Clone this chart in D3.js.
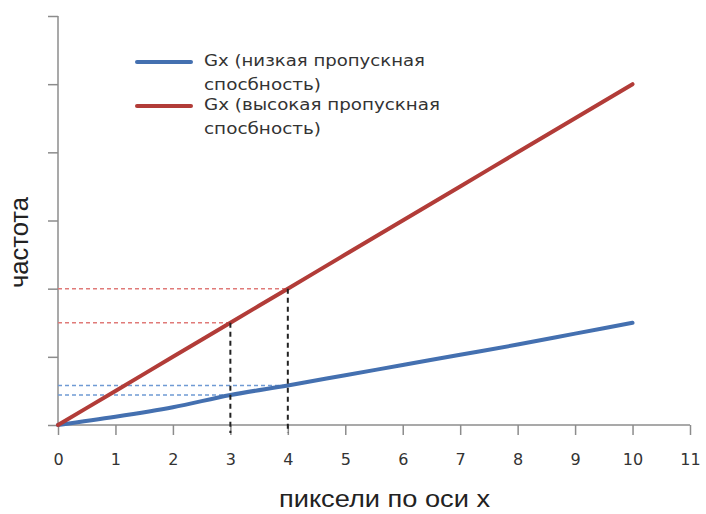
<!DOCTYPE html>
<html><head><meta charset="utf-8">
<script src="https://cdn.jsdelivr.net/npm/d3@7"></script>
<style>body{margin:0;background:#fff}svg{display:block}</style>
</head><body><svg id="c" width="706" height="514"></svg>
<script>
const xValues = [0,1,2,3,4,5,6,7,8,9,10];
const lowBandwidth = [0,0.12,0.26,0.44,0.58,0.73,0.88,1.03,1.18,1.34,1.5];
const highBandwidth = [0,0.5,1,1.5,2,2.5,3,3.5,4,4.5,5];
const seriesNames = ["Gx (низкая пропускная|спосбность)","Gx (высокая пропускная|спосбность)"];
const xTicks = [0,1,2,3,4,5,6,7,8,9,10,11];
const yTicks = [0,1,2,3,4,5,6];
const markX = [3,4];
const xTitle = "пиксели по оси x";
const yTitle = "частота";

const svg = d3.select("#c");
const x = d3.scaleLinear().domain([0,11]).range([58,690]);
const y = d3.scaleLinear().domain([0,6]).range([425,16]);
const font = "'DejaVu Sans', sans-serif";
const titleFont = "'Liberation Sans Narrow', 'Liberation Sans', sans-serif";
const axisCol = "#8c8c8c";

// axes
const xa = svg.append("g").attr("transform",`translate(0,${y(0)})`)
  .call(d3.axisBottom(x).tickValues(xTicks).tickSize(10).tickPadding(17).tickFormat(d3.format("d")));
const ya = svg.append("g").attr("transform",`translate(${x(0)},0)`)
  .call(d3.axisLeft(y).tickValues(yTicks).tickSize(10).tickFormat(""));
[xa,ya].forEach(a=>{
  a.select(".domain").attr("stroke",axisCol).attr("stroke-width",1.5);
  a.selectAll(".tick line").attr("stroke",axisCol).attr("stroke-width",1.5);
});
xa.selectAll(".domain").attr("d",`M${x(0)},0H${x(11)}`);
ya.selectAll(".domain").attr("d",`M0,${y(6)}V${y(0)}`);
xa.selectAll(".tick text").attr("font-family",font).attr("font-size",16)
  .attr("fill","#333").attr("dy",null).attr("y",40);

// helper lines
const lowAt = v => lowBandwidth[xValues.indexOf(v)];
const highAt = v => highBandwidth[xValues.indexOf(v)];
markX.forEach(v=>{
  svg.append("line").attr("x1",x(0)).attr("x2",x(v)).attr("y1",y(highAt(v))).attr("y2",y(highAt(v)))
    .attr("stroke","#e07a78").attr("stroke-width",1.5).attr("stroke-dasharray","4,3");
  svg.append("line").attr("x1",x(0)).attr("x2",x(v)).attr("y1",y(lowAt(v))).attr("y2",y(lowAt(v)))
    .attr("stroke","#6f9ad4").attr("stroke-width",1.5).attr("stroke-dasharray","4,3");
});

const line = d3.line().x((d,i)=>x(xValues[i])).y(d=>y(d)).curve(d3.curveMonotoneX);
svg.append("path").datum(lowBandwidth).attr("d",line).attr("fill","none")
  .attr("stroke","#4470b0").attr("stroke-width",4).attr("stroke-linecap","round");
svg.append("path").datum(highBandwidth).attr("d",line).attr("fill","none")
  .attr("stroke","#b23c38").attr("stroke-width",4).attr("stroke-linecap","round");

markX.forEach(v=>{
  svg.append("line").attr("x1",x(v)).attr("x2",x(v)).attr("y1",y(highAt(v))).attr("y2",y(0)+8)
    .attr("stroke","#222").attr("stroke-width",2).attr("stroke-dasharray","5,4");
});

// legend
const colors = ["#4470b0","#b23c38"];
const lens = [[221,117],[236,117]];
seriesNames.forEach((n,i)=>{
  const ly = 62 + i*44;
  svg.append("line").attr("x1",137).attr("x2",191).attr("y1",ly).attr("y2",ly)
    .attr("stroke",colors[i]).attr("stroke-width",4).attr("stroke-linecap","round");
  n.split("|").forEach((s,j)=>{
    svg.append("text").attr("x",204).attr("y",ly+4+j*24).attr("font-family",font)
      .attr("font-size",15).attr("fill","#333")
      .attr("textLength",lens[i][j]).attr("lengthAdjust","spacingAndGlyphs").text(s);
  });
});

// titles
svg.append("text").attr("x",279).attr("y",507)
  .attr("font-family",titleFont).attr("font-size",24).attr("fill","#222")
  .attr("textLength",211).attr("lengthAdjust","spacingAndGlyphs").text(xTitle);
svg.append("text").attr("transform","translate(28,288) rotate(-90)")
  .attr("font-family",titleFont).attr("font-size",25).attr("fill","#222")
  .attr("textLength",91).attr("lengthAdjust","spacingAndGlyphs").text(yTitle);
</script></body></html>
